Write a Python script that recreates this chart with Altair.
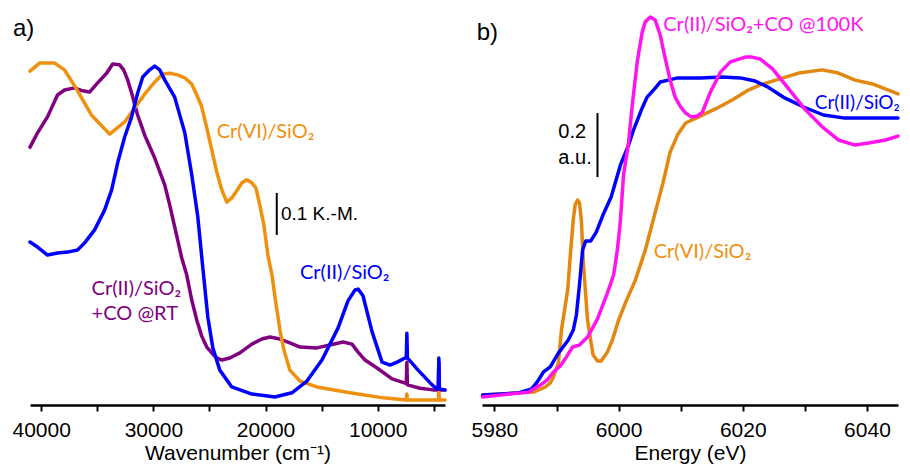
import altair as alt
import pandas as pd

# ---------------- Panel a: UV-Vis DRS (Kubelka-Munk) ----------------
a_vi_wn = [41000, 40150, 38810, 37920, 36850, 35510, 33900, 32560, 31670, 30780, 29880, 29170,
           28540, 27830, 27200, 26580, 26130, 25690, 25240, 24790, 24350, 23900, 23450, 23010,
           22560, 22110, 21670, 21220, 20860, 20510, 20150, 19790, 19430, 19080, 18720, 18360,
           17830, 16930, 15420, 12470, 9520, 7450, 7400, 7350, 4600, 4550, 4500, 4000]
a_vi_km = [0.795, 0.814, 0.814, 0.798, 0.752, 0.690, 0.645, 0.674, 0.707, 0.740, 0.769, 0.788,
           0.790, 0.786, 0.779, 0.764, 0.738, 0.710, 0.660, 0.607, 0.555, 0.512, 0.483, 0.493,
           0.510, 0.529, 0.536, 0.529, 0.517, 0.476, 0.429, 0.357, 0.310, 0.243, 0.179, 0.131,
           0.083, 0.057, 0.043, 0.029, 0.017, 0.012, 0.026, 0.012, 0.012, 0.031, 0.012, 0.012]

a_co_wn = [41000, 40330, 39440, 38550, 37920, 37030, 36310, 35690, 34970, 34170, 33630, 33010,
           32650, 32290, 31940, 31400, 30780, 29880, 28990, 28540, 28100, 27470, 27030, 26580,
           26130, 25690, 25240, 24790, 24350, 23900, 23190, 22290, 21220, 20330, 19610, 18720,
           17830, 16930, 15420, 14260, 13090, 12290, 11750, 11130, 10060, 8720, 7560, 7450,
           7400, 7350, 6220, 5060, 4600, 4550, 4500, 4000]
a_co_km = [0.614, 0.648, 0.686, 0.738, 0.750, 0.755, 0.748, 0.745, 0.767, 0.790, 0.812, 0.810,
           0.798, 0.774, 0.743, 0.690, 0.643, 0.588, 0.524, 0.476, 0.424, 0.350, 0.310, 0.250,
           0.202, 0.164, 0.138, 0.124, 0.112, 0.107, 0.112, 0.124, 0.145, 0.157, 0.162, 0.157,
           0.148, 0.138, 0.136, 0.143, 0.150, 0.145, 0.126, 0.107, 0.088, 0.062, 0.052, 0.052,
           0.102, 0.048, 0.040, 0.036, 0.036, 0.102, 0.036, 0.036]

a_ii_wn = [41000, 40330, 39440, 38550, 37650, 36760, 36130, 35240, 34350, 33720, 33190, 32560,
           31940, 31400, 30950, 30330, 29880, 29440, 28990, 28100, 27200, 26580, 26040, 25600,
           25150, 24700, 24080, 23010, 21220, 19170, 17650, 16310, 14970, 13540, 12650, 12020,
           11750, 11310, 10500, 9610, 8900, 8270, 7560, 7450, 7400, 7350, 6400, 5150, 4700,
           4600, 4550, 4500, 4000]
a_ii_km = [0.388, 0.376, 0.357, 0.362, 0.364, 0.369, 0.386, 0.417, 0.464, 0.512, 0.576, 0.638,
           0.686, 0.743, 0.781, 0.798, 0.807, 0.798, 0.774, 0.733, 0.648, 0.548, 0.448, 0.329,
           0.210, 0.136, 0.083, 0.043, 0.026, 0.019, 0.029, 0.057, 0.107, 0.183, 0.248, 0.274,
           0.276, 0.260, 0.174, 0.102, 0.095, 0.102, 0.112, 0.112, 0.171, 0.112, 0.083, 0.048,
           0.038, 0.038, 0.112, 0.038, 0.036]

# ---------------- Panel b: Cr K-edge XANES ----------------
b_ii_ev = [5978.1, 5983.7, 5986.0, 5986.9, 5987.9, 5989.0, 5990.3, 5991.9, 5992.7, 5993.2,
           5993.7, 5994.2, 5994.7, 5995.5, 5996.4, 5997.5, 5998.8, 6000.3, 6001.6, 6002.4,
           6003.8, 6004.6, 6005.9, 6006.7, 6008.0, 6009.5, 6013.2, 6016.7, 6019.6, 6022.0,
           6024.0, 6026.5, 6029.8, 6033.0, 6036.2, 6045.0]
b_ii_mu = [0.000, 0.006, 0.019, 0.041, 0.072, 0.088, 0.131, 0.172, 0.203, 0.250,
           0.344, 0.453, 0.481, 0.481, 0.509, 0.563, 0.619, 0.719, 0.781, 0.828,
           0.897, 0.931, 0.959, 0.978, 0.984, 0.991, 0.991, 0.994, 0.991, 0.981,
           0.963, 0.931, 0.900, 0.875, 0.866, 0.866]

b_co_ev = [5978.1, 5985.5, 5987.4, 5988.5, 5989.5, 5990.6, 5991.6, 5992.6, 5993.7, 5995.0,
           5996.6, 5998.2, 5999.2, 5999.8, 6000.3, 6000.8, 6001.6, 6002.2, 6003.0, 6003.8,
           6004.3, 6005.1, 6005.9, 6006.7, 6007.5, 6008.3, 6009.1, 6010.0, 6010.8, 6011.7,
           6012.7, 6013.5, 6014.8, 6016.4, 6018.0, 6020.4, 6021.5, 6022.8, 6024.8, 6027.3,
           6030.1, 6032.8, 6035.4, 6038.1, 6040.5, 6043.0, 6045.0]
b_co_mu = [-0.006, 0.009, 0.031, 0.047, 0.072, 0.091, 0.119, 0.150, 0.156, 0.181,
           0.238, 0.319, 0.375, 0.453, 0.547, 0.688, 0.788, 0.906, 1.041, 1.134,
           1.166, 1.181, 1.172, 1.125, 1.053, 0.984, 0.931, 0.900, 0.881, 0.869,
           0.872, 0.884, 0.947, 1.009, 1.041, 1.056, 1.056, 1.050, 1.019, 0.959,
           0.891, 0.838, 0.797, 0.781, 0.788, 0.797, 0.809]

b_vi_ev = [5978.1, 5986.3, 5988.2, 5989.0, 5989.5, 5990.0, 5990.3, 5990.8, 5991.3, 5991.8,
           5992.2, 5992.7, 5993.0, 5993.4, 5993.7, 5994.0, 5994.3, 5994.7, 5995.0, 5995.5,
           5995.9, 5996.6, 5997.2, 5998.2, 5999.0, 6000.0, 6001.1, 6002.7, 6004.3, 6005.4,
           6007.1, 6008.3, 6009.5, 6010.8, 6012.9, 6015.6, 6018.3, 6020.9, 6022.8, 6025.3,
           6029.0, 6032.8, 6035.4, 6038.1, 6040.9, 6045.0]
b_vi_mu = [0.000, 0.009, 0.025, 0.038, 0.056, 0.084, 0.100, 0.203, 0.266, 0.328,
           0.431, 0.547, 0.594, 0.609, 0.600, 0.547, 0.422, 0.313, 0.234, 0.172,
           0.125, 0.106, 0.106, 0.134, 0.172, 0.234, 0.288, 0.359, 0.453, 0.534,
           0.659, 0.759, 0.813, 0.850, 0.869, 0.894, 0.922, 0.953, 0.969, 0.984,
           1.006, 1.016, 1.006, 0.984, 0.972, 0.941]

ORANGE = "#F0900F"
ORANGE_B = "#E2870F"
BLUE = "#0000FF"
PURPLE = "#800080"
PINK = "#FF14F0"


def long_df(series):
    rows = []
    for name, xs, ys in series:
        for x, y in zip(xs, ys):
            rows.append({"series": name, "x": x, "y": y})
    return pd.DataFrame(rows)


df_a = long_df([("CO_RT", a_co_wn, a_co_km), ("VI", a_vi_wn, a_vi_km), ("II", a_ii_wn, a_ii_km)])
df_b = long_df([("VI", b_vi_ev, b_vi_mu), ("II", b_ii_ev, b_ii_mu), ("CO_100K", b_co_ev, b_co_mu)])

AXFONT = "Liberation Sans"
LBLFONT = "Lato"
PLOT_W = 868          # both panels share one plot area
PANEL_A = [0, 415]    # pixel range of panel a inside the plot area
PANEL_B = [452, 868]  # pixel range of panel b inside the plot area


def axis(values, major, title):
    return alt.Axis(values=values, orient="bottom",
                    labelExpr=f"datum.value % {major} == 0 ? datum.label : ''",
                    format="d", title=title, grid=False,
                    domainColor="black", domainWidth=2.5, tickColor="black",
                    tickWidth=2, tickSize=6, labelFont=AXFONT, labelFontSize=21,
                    labelColor="black", labelPadding=8, labelFlush=False,
                    labelOverlap=False,
                    titleFont=AXFONT, titleFontSize=21, titleFontWeight="normal",
                    titleColor="black", titlePadding=2)


xa = alt.X("x:Q",
           scale=alt.Scale(domain=[4000, 41000], reverse=True, nice=False, zero=False,
                           range=PANEL_A),
           axis=axis([40000, 35000, 30000, 25000, 20000, 15000, 10000, 5000], 10000,
                     "Wavenumber (cm⁻¹)"))
ya = alt.Y("y:Q", scale=alt.Scale(domain=[0, 0.9333], nice=False, zero=False), axis=None)

xb = alt.X("x:Q",
           scale=alt.Scale(domain=[5978, 6045], nice=False, zero=False, range=PANEL_B),
           axis=axis([5980, 5990, 6000, 6010, 6020, 6030, 6040], 20, "Energy (eV)"))
yb = alt.Y("y:Q", scale=alt.Scale(domain=[-0.03125, 1.19375], nice=False, zero=False),
           axis=None)

lines_a = alt.Chart(df_a).mark_line(strokeWidth=3.5, strokeJoin="round", strokeCap="round").encode(
    x=xa, y=ya,
    color=alt.Color("series:N", scale=alt.Scale(domain=["CO_RT", "VI", "II"],
                                                range=[PURPLE, ORANGE, BLUE]), legend=None))

lines_b = alt.Chart(df_b).mark_line(strokeWidth=3.5, strokeJoin="round", strokeCap="round").encode(
    x=xb, y=yb,
    color=alt.Color("series:N", scale=alt.Scale(domain=["VI", "II", "CO_100K"],
                                                range=[ORANGE_B, BLUE, PINK]), legend=None))

# annotations panel a
lab_a = pd.DataFrame({
    "x": [24350, 16930, 35510, 35510],
    "y": [0.651, 0.315, 0.275, 0.216],
    "t": ["Cr(VI)/SiO₂", "Cr(II)/SiO₂", "Cr(II)/SiO₂", "+CO @RT"],
    "c": [ORANGE, BLUE, PURPLE, PURPLE],
    "s": [20, 20, 20, 20],
})
txt_a = alt.Chart(lab_a).mark_text(align="left", baseline="middle", font=LBLFONT).encode(
    x="x:Q", y="y:Q", text="t:N", color=alt.Color("c:N", scale=None),
    size=alt.Size("s:Q", scale=None, legend=None))

misc_a = pd.DataFrame({"x": [42520, 18630], "y": [0.895, 0.454], "t": ["a)", "0.1 K.-M."],
                       "s": [24, 19]})
mtxt_a = alt.Chart(misc_a).mark_text(align="left", baseline="middle", font=AXFONT,
                                     color="black").encode(
    x="x:Q", y="y:Q", text="t:N", size=alt.Size("s:Q", scale=None, legend=None))

bar_a = alt.Chart(pd.DataFrame({"x": [19000], "y": [0.405], "y2": [0.505]})).mark_rule(
    color="black", strokeWidth=2).encode(x="x:Q", y="y:Q", y2="y2:Q")

panel_a = alt.layer(lines_a, bar_a, txt_a, mtxt_a)

# annotations panel b
lab_b = pd.DataFrame({
    "x": [6007.2, 6031.6, 6005.65],
    "y": [1.156, 0.912, 0.448],
    "t": ["Cr(II)/SiO₂+CO @100K", "Cr(II)/SiO₂", "Cr(VI)/SiO₂"],
    "c": [PINK, BLUE, ORANGE],
    "s": [20, 19, 20],
})
txt_b = alt.Chart(lab_b).mark_text(align="left", baseline="middle", font=LBLFONT).encode(
    x="x:Q", y="y:Q", text="t:N", color=alt.Color("c:N", scale=None),
    size=alt.Size("s:Q", scale=None, legend=None))

misc_b = pd.DataFrame({"x": [5977.15, 5990.3, 5990.3], "y": [1.131, 0.823, 0.742],
                       "t": ["b)", "0.2", "a.u."], "s": [24, 20, 20]})
mtxt_b = alt.Chart(misc_b).mark_text(align="left", baseline="middle", font=AXFONT,
                                     color="black").encode(
    x="x:Q", y="y:Q", text="t:N", size=alt.Size("s:Q", scale=None, legend=None))

bar_b = alt.Chart(pd.DataFrame({"x": [5996.6], "y": [0.681], "y2": [0.881]})).mark_rule(
    color="black", strokeWidth=2).encode(x="x:Q", y="y:Q", y2="y2:Q")

panel_b = alt.layer(lines_b, bar_b, txt_b, mtxt_b)

chart = alt.layer(panel_a, panel_b).resolve_scale(
    x="independent", y="independent", color="independent", size="independent"
).resolve_axis(x="independent").properties(
    width=PLOT_W, height=392,
    autosize=alt.AutoSizeParams(type="none"),
    padding={"left": 22, "top": 5, "right": 2, "bottom": 70},
    background="white",
).configure_view(stroke=None)

chart.save("out.html", embed_options={"renderer": "svg", "actions": False})
